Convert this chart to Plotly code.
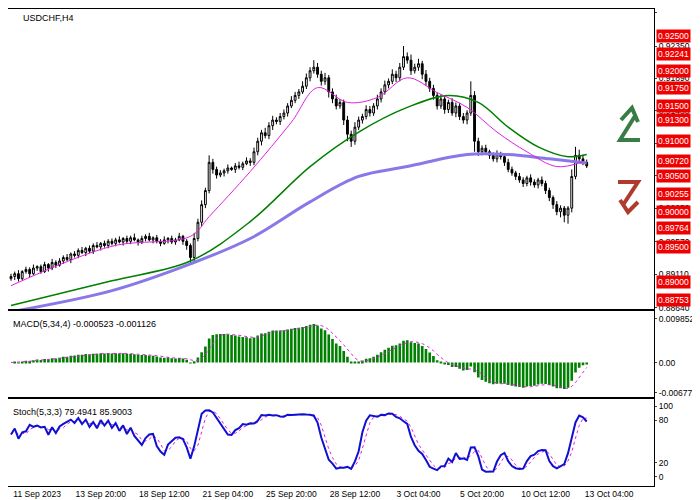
import numpy as np
import pandas as pd
import plotly.graph_objects as go
from plotly.subplots import make_subplots

# H4 closes
closes = [
    0.8908, 0.8912, 0.8905, 0.8915, 0.8918, 0.8912, 0.8920, 0.8922, 0.8915, 0.8925, 0.8920, 0.8928, 0.8924, 0.8930,
    0.8935, 0.8932, 0.8940, 0.8938, 0.8945, 0.8942, 0.8948, 0.8944, 0.8952, 0.8950, 0.8955, 0.8952, 0.8958,
    0.8955, 0.8960, 0.8957, 0.8962, 0.8958, 0.8963, 0.8960, 0.8957, 0.8962, 0.8965, 0.8960, 0.8963, 0.8958, 0.8955,
    0.8960, 0.8962, 0.8957, 0.8960, 0.8965, 0.8958, 0.8952,
    0.8935, 0.8962, 0.8985, 0.9010, 0.9030, 0.9070, 0.9060, 0.9052,
    0.9055, 0.9058, 0.9062, 0.9060, 0.9065, 0.9063, 0.9068, 0.9072, 0.9070,
    0.9085, 0.9100, 0.9112, 0.9108, 0.9122, 0.9130, 0.9128, 0.9135,
    0.9140, 0.9150, 0.9158, 0.9165, 0.9170, 0.9178, 0.9190, 0.9200,
    0.9205, 0.9195, 0.9185, 0.9190, 0.9170, 0.9160, 0.9150, 0.9155, 0.9130, 0.9110, 0.9100, 0.9120,
    0.9130, 0.9135, 0.9145, 0.9140, 0.9150, 0.9160,
    0.9170, 0.9180, 0.9185, 0.9195, 0.9190, 0.9205, 0.9220,
    0.9215, 0.9200, 0.9205, 0.9210, 0.9195, 0.9185, 0.9175,
    0.9165, 0.9150, 0.9160, 0.9145, 0.9155, 0.9140, 0.9150, 0.9135,
    0.9130, 0.9140, 0.9165, 0.9100, 0.9085,
    0.9090, 0.9085, 0.9080, 0.9075, 0.9082, 0.9078, 0.9070, 0.9060,
    0.9055, 0.9050, 0.9045, 0.9040, 0.9048, 0.9042, 0.9038, 0.9045, 0.9040, 0.9030,
    0.9020, 0.9010, 0.9000, 0.9005, 0.8995,
    0.9005, 0.9050, 0.9080, 0.9075, 0.9070, 0.9065,
]
first_open = 0.8905
# wick lengths in pips
upper_wick = [
    4, 3, 5, 2, 4, 3, 5, 2, 3, 4, 2, 5, 3, 4,
    3, 5, 2, 4, 3, 5, 2, 4, 3, 5, 2, 4, 3,
    4, 3, 5, 2, 4, 3, 6, 2, 4, 3, 5, 2, 4, 3, 5, 2, 4, 3, 5, 2, 3,
    3, 8, 5, 6, 4, 10, 5, 4,
    4, 3, 5, 2, 4, 6, 3, 5, 4,
    6, 5, 4, 7, 5, 6, 4, 5,
    5, 4, 6, 5, 4, 7, 6, 5,
    10, 6, 5, 7, 4, 5, 6, 5, 4, 6, 5, 7,
    5, 4, 6, 5, 4, 6,
    5, 6, 4, 7, 5, 6, 15,
    6, 8, 5, 7, 4, 6, 5,
    5, 4, 6, 5, 4, 6, 5, 4,
    5, 4, 20, 6, 5,
    4, 5, 3, 4, 5, 3, 4, 5,
    4, 3, 5, 4, 3, 5, 4, 3, 5, 4,
    4, 3, 5, 4, 3,
    3, 10, 12, 8, 6, 4,
]
lower_wick = [
    3, 5, 4, 2, 3, 5, 2, 4, 3, 2, 5, 3, 4, 2,
    4, 2, 5, 3, 4, 2, 5, 3, 4, 2, 5, 3, 4,
    3, 4, 2, 5, 3, 4, 2, 5, 3, 4, 2, 5, 3, 4, 2, 5, 3, 4, 2, 5, 6,
    10, 5, 4, 6, 5, 4, 6, 5,
    3, 5, 4, 2, 5, 3, 4, 2, 5,
    4, 5, 6, 4, 5, 6, 4, 5,
    4, 5, 3, 4, 5, 3, 4, 5,
    4, 5, 6, 5, 8, 6, 5, 4, 7, 10, 8, 5,
    4, 5, 4, 5, 4, 5,
    5, 4, 5, 4, 6, 5, 4,
    5, 6, 4, 5, 7, 6, 5,
    6, 5, 4, 6, 5, 4, 6, 5,
    5, 6, 4, 15, 6,
    5, 4, 5, 4, 5, 4, 5, 4,
    4, 5, 4, 5, 4, 5, 4, 5, 4, 5,
    5, 6, 5, 8, 10,
    12, 6, 4, 5, 4, 3,
]

# moving averages, read at a few bars
ma_fast_x = [0, 27, 48, 53, 64, 75, 82, 90, 98, 106, 114, 122, 130, 138, 146, 153]
ma_fast_y = [0.8895, 0.8951, 0.8965, 0.8993, 0.9057, 0.9127, 0.9176, 0.9155, 0.9162, 0.9190, 0.9169,
             0.9148, 0.9113, 0.9085, 0.9064, 0.9071]
ma_mid_x = [0, 27, 48, 64, 80, 93, 106, 117, 125, 133, 141, 149, 154]
ma_mid_y = [0.8867, 0.8902, 0.8930, 0.8986, 0.9064, 0.9113, 0.9148, 0.9165, 0.9155, 0.9120, 0.9092, 0.9078, 0.9081]
ma_slow_x = [0, 27, 48, 64, 80, 93, 106, 122, 133, 144, 154]
ma_slow_y = [0.8858, 0.8888, 0.8926, 0.8962, 0.9014, 0.9050, 0.9064, 0.9081, 0.9081, 0.9075, 0.9069]

levels = [0.92500, 0.92241, 0.92000, 0.91750, 0.91500, 0.91300, 0.91000, 0.90720,
          0.90500, 0.90255, 0.90000, 0.89764, 0.89500, 0.89000, 0.88753]
price_ticks = [0.92820, 0.92350, 0.91890, 0.91430, 0.90970, 0.90510, 0.90050, 0.89570, 0.89110, 0.88640]
date_labels = ["11 Sep 2023", "13 Sep 20:00", "18 Sep 12:00", "21 Sep 04:00", "25 Sep 20:00",
               "28 Sep 12:00", "3 Oct 04:00", "5 Oct 20:00", "10 Oct 12:00", "13 Oct 04:00"]

n = len(closes)
c = np.array(closes)
o = np.concatenate([[first_open], c[:-1]])
hi = np.maximum(o, c) + np.array(upper_wick) * 0.0001
lo = np.minimum(o, c) - np.array(lower_wick) * 0.0001
x = np.arange(n)

s = pd.Series(c)
macd = s.ewm(span=5, adjust=False).mean() - s.ewm(span=34, adjust=False).mean()
signal = macd.rolling(4, min_periods=1).mean()
hh = pd.Series(hi).rolling(5, min_periods=1).max()
ll = pd.Series(lo).rolling(5, min_periods=1).min()
raw = (s - ll) / (hh - ll) * 100
k = raw.rolling(3, min_periods=1).mean()
d = k.rolling(3, min_periods=1).mean()

fig = make_subplots(rows=3, cols=1, shared_xaxes=True, vertical_spacing=0.0,
                    row_heights=[0.63, 0.185, 0.185])

for lv in levels:
    fig.add_hline(y=lv, line=dict(color="#cc0000", width=1), row=1, col=1)

fig.add_trace(go.Candlestick(x=x, open=o, high=hi, low=lo, close=c,
                             increasing=dict(line=dict(color="black", width=1), fillcolor="white"),
                             decreasing=dict(line=dict(color="black", width=1), fillcolor="black"),
                             whiskerwidth=0, showlegend=False), row=1, col=1)
fig.add_trace(go.Scatter(x=ma_slow_x, y=ma_slow_y, mode="lines", line=dict(color="#8878e8", width=3, shape="spline"),
                         showlegend=False), row=1, col=1)
fig.add_trace(go.Scatter(x=ma_mid_x, y=ma_mid_y, mode="lines", line=dict(color="#008000", width=1.5, shape="spline"),
                         showlegend=False), row=1, col=1)
fig.add_trace(go.Scatter(x=ma_fast_x, y=ma_fast_y, mode="lines", line=dict(color="#e020e0", width=1, shape="spline"),
                         showlegend=False), row=1, col=1)

fig.add_trace(go.Bar(x=x, y=macd, marker=dict(color="#008000", line=dict(width=0)), width=0.7,
                     showlegend=False), row=2, col=1)
fig.add_trace(go.Scatter(x=x, y=signal, mode="lines", line=dict(color="#e020e0", width=1, dash="dot"),
                         showlegend=False), row=2, col=1)

for lv in [20, 80]:
    fig.add_hline(y=lv, line=dict(color="#cc0000", width=1.2, dash="dash"), row=3, col=1)
fig.add_trace(go.Scatter(x=x, y=d, mode="lines", line=dict(color="#e020e0", width=1, dash="dot"),
                         showlegend=False), row=3, col=1)
fig.add_trace(go.Scatter(x=x, y=k, mode="lines", line=dict(color="#1010d0", width=2),
                         showlegend=False), row=3, col=1)

axis_font = dict(family="Liberation Sans", size=8.5, color="black")
fig.update_xaxes(range=[-0.8, 172], showgrid=False, zeroline=False, showline=True, linecolor="black",
                 mirror=True, rangeslider_visible=False, ticks="")
fig.update_xaxes(tickvals=[17 * i + 7 for i in range(len(date_labels))], ticktext=date_labels,
                 tickfont=axis_font, row=3, col=1)
fig.update_yaxes(side="right", showgrid=False, zeroline=False, showline=True, linecolor="black",
                 mirror=True, ticks="outside", ticklen=2, tickfont=axis_font)
fig.update_yaxes(range=[0.88612, 0.92876], tickvals=price_ticks, tickformat=".5f", row=1, col=1)
fig.update_yaxes(range=[-0.0079, 0.0119], tickvals=[0.009852, 0.0, -0.006774],
                 ticktext=["0.009852", "0.00", "-0.006774"], row=2, col=1)
fig.update_yaxes(range=[-13, 112], tickvals=[0, 20, 80, 100], row=3, col=1)

# red price labels on the right
for lv in levels:
    fig.add_annotation(x=1.003, xref="paper", y=lv, yref="y", xanchor="left", text="%.5f" % lv,
                       showarrow=False, bgcolor="#ee0000",
                       font=dict(family="Liberation Sans", size=8.5, color="white"), borderpad=1)

fig.add_annotation(x=0.02, y=0.995, xref="paper", yref="paper", xanchor="left", yanchor="top",
                   text="USDCHF,H4", showarrow=False, font=dict(family="Liberation Sans", size=9, color="black"))
fig.add_annotation(x=0.005, y=0.355, xref="paper", yref="paper", xanchor="left", yanchor="top",
                   text="MACD(5,34,4) -0.000523 -0.001126", showarrow=False,
                   font=dict(family="Liberation Sans", size=9, color="black"))
fig.add_annotation(x=0.005, y=0.17, xref="paper", yref="paper", xanchor="left", yanchor="top",
                   text="Stoch(5,3,3) 79.4941 85.9003", showarrow=False,
                   font=dict(family="Liberation Sans", size=9, color="black"))

W, PL, PT, PH = 646.0, 0.0, 1.0, 477.0


def pp(px, py):
    return "%.4f %.4f" % ((px - PL) / W, (PT + PH - py) / PH)


up = "M " + pp(632, 132) + " L " + pp(612, 132) + " L " + pp(627, 108)
up2 = "M " + pp(613, 112) + " L " + pp(624, 100) + " L " + pp(630, 114)
dn = "M " + pp(610, 174) + " L " + pp(630, 174) + " L " + pp(615, 197)
dn2 = "M " + pp(612, 192) + " L " + pp(620, 204) + " L " + pp(630, 194)
for path, col in [(up, "#3a7d44"), (up2, "#3a7d44"), (dn, "#b03a2e"), (dn2, "#b03a2e")]:
    fig.add_shape(type="path", path=path, xref="paper", yref="paper", line=dict(color=col, width=4))

fig.update_layout(width=700, height=500, margin=dict(l=0, r=54, t=1, b=22),
                  plot_bgcolor="white", paper_bgcolor="white", bargap=0.3)
fig.write_html("out.html")
